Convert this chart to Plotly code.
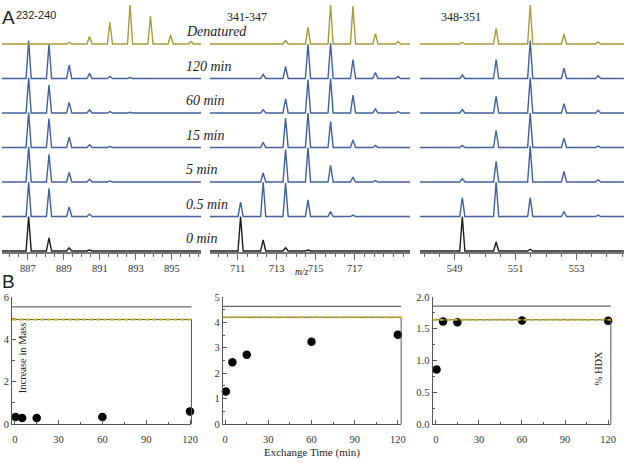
import plotly.graph_objects as go

W, H = 633, 463

# ---------------- DATA ----------------
row_labels = ["0 min", "0.5 min", "5 min", "15 min", "60 min", "120 min", "Denatured"]
peptides = ["232-240", "341-347", "348-351"]

p1_mz = [887.05, 888.18, 889.30, 890.43, 891.56, 892.68, 893.81, 894.93, 896.06]
p1_int = [
    [1.00, 0.38, 0.09, 0.03, 0.01, 0.00, 0.00, 0.00, 0.00],
    [1.00, 0.82, 0.28, 0.07, 0.02, 0.01, 0.00, 0.00, 0.00],
    [1.02, 0.80, 0.28, 0.08, 0.03, 0.01, 0.00, 0.00, 0.00],
    [1.02, 0.84, 0.30, 0.08, 0.03, 0.01, 0.00, 0.00, 0.00],
    [1.02, 0.81, 0.31, 0.09, 0.04, 0.02, 0.01, 0.00, 0.00],
    [1.10, 1.00, 0.39, 0.15, 0.06, 0.03, 0.02, 0.01, 0.00],
    [0.00, 0.01, 0.05, 0.22, 0.63, 1.13, 0.80, 0.26, 0.07],
]
p1_ticks = [887, 889, 891, 893, 895]

p2_mz = [711.15, 712.31, 713.46, 714.61, 715.77, 716.92, 718.07, 719.23]
p2_int = [
    [1.00, 0.32, 0.10, 0.03, 0.01, 0.00, 0.00, 0.00],
    [0.42, 1.00, 0.98, 0.48, 0.14, 0.04, 0.01, 0.00],
    [0.02, 0.26, 0.94, 1.00, 0.48, 0.14, 0.04, 0.01],
    [0.01, 0.15, 0.85, 1.00, 0.75, 0.22, 0.06, 0.02],
    [0.01, 0.10, 0.41, 0.97, 1.00, 0.52, 0.12, 0.04],
    [0.01, 0.12, 0.34, 1.00, 1.03, 0.55, 0.17, 0.06],
    [0.00, 0.02, 0.10, 0.48, 1.13, 1.10, 0.30, 0.07],
]
p2_ticks = [711, 713, 715, 717]

p3_mz = [549.25, 550.36, 551.48, 552.59, 553.71]
p3_int = [
    [1.00, 0.26, 0.05, 0.01, 0.00],
    [0.55, 1.00, 0.55, 0.14, 0.04],
    [0.10, 0.60, 1.04, 0.31, 0.07],
    [0.06, 0.50, 1.00, 0.27, 0.04],
    [0.10, 0.48, 1.03, 0.27, 0.08],
    [0.10, 0.55, 1.10, 0.30, 0.08],
    [0.05, 0.45, 1.13, 0.29, 0.06],
]
p3_ticks = [549, 551, 553]

time_min = [0.5, 5, 15, 60, 120]
mass_1 = [0.34, 0.29, 0.29, 0.34, 0.60]
mass_2 = [1.28, 2.43, 2.73, 3.24, 3.51]
mass_3 = [0.86, 1.615, 1.60, 1.63, 1.625]
max_mass = [5.53, 4.63, 1.856]
denatured_mass = [4.93, 4.20, 1.64]
time_ticks = [0, 30, 60, 90, 120]
hdx_ticks = [0, 20, 40, 60, 80, 100]

# ---------------- HELPERS ----------------
def px(x):
    return x / W

def py(y):
    return 1 - y / H

SERIF = "Liberation Serif"
SANS = "Liberation Sans"
row_colors = ["#1c1c1c"] + ["#40609e"] * 5 + ["#a39c3a"]
TICKFONT = dict(family=SERIF, size=10.5, color="#333")

fig = go.Figure()

spec_panels = [
    dict(mz=p1_mz, inten=p1_int, ticks=p1_ticks, dom=(2, 203), rng=(885.57, 896.62)),
    dict(mz=p2_mz, inten=p2_int, ticks=p2_ticks, dom=(212, 414), rng=(709.58, 719.85)),
    dict(mz=p3_mz, inten=p3_int, ticks=p3_ticks, dom=(424, 630), rng=(547.86, 554.56)),
]

y_lo, y_hi = -0.03, 7.13
spec_bottom_px = 253.06

for pi, p in enumerate(spec_panels):
    ax = "" if pi == 0 else str(pi + 1)
    xmin, xmax = p["rng"]
    ppu = (p["dom"][1] - p["dom"][0]) / (xmax - xmin)
    half = 2.6 / ppu
    for ri, inten in enumerate(p["inten"]):
        xs, ys = [xmin], [ri]
        for m, h in zip(p["mz"], inten):
            if h <= 0:
                continue
            xs += [m - half, m, m + half]
            ys += [ri, ri + h, ri]
        xs.append(xmax)
        ys.append(ri)
        fig.add_trace(go.Scatter(
            x=xs, y=ys, mode="lines", xaxis="x" + ax, yaxis="y" + ax,
            line=dict(color=row_colors[ri], width=1.4), hoverinfo="skip",
            showlegend=False))
    fig.layout["xaxis" + ax] = dict(
        domain=[px(p["dom"][0]), px(p["dom"][1])], range=list(p["rng"]),
        anchor="y" + ax, showline=True, linecolor="#777", linewidth=1.5,
        ticks="outside", ticklen=6, tickcolor="#666", tickwidth=1,
        tickvals=p["ticks"], ticktext=[str(t) for t in p["ticks"]],
        minor=dict(dtick=0.5, tick0=0, ticks="outside", ticklen=3, tickcolor="#666"),
        showgrid=False, zeroline=False, tickfont=TICKFONT)
    fig.layout["yaxis" + ax] = dict(
        domain=[py(spec_bottom_px), 1.0], range=[y_lo, y_hi], anchor="x" + ax,
        visible=False, showgrid=False, zeroline=False)

# ---------------- PANEL B ----------------
b_panels = [
    dict(y=mass_1, dom=(12.3, 193.3), xr=(-1.8, 121.0), yr=(0, 6), dt=2, mdt=1, fmt="d", lab=False),
    dict(y=mass_2, dom=(225, 405), xr=(-1.6, 122.3), yr=(0, 5), dt=1, mdt=0.5, fmt="d", lab=False),
    dict(y=mass_3, dom=(436.7, 616.7), xr=(-2.3, 121.9), yr=(0, 2), dt=0.5, mdt=0.25, fmt=".1f", lab=True),
]
b_ydom = [py(429.3), py(299)]

for bi, b in enumerate(b_panels):
    n = 4 + bi
    nr = 7 + bi
    xa, ya = "x%d" % n, "y%d" % n
    fig.add_trace(go.Scatter(
        x=time_min, y=b["y"], mode="markers", xaxis=xa, yaxis=ya,
        marker=dict(color="black", size=8.5), cliponaxis=False,
        hoverinfo="skip", showlegend=False))
    fig.layout["xaxis%d" % n] = dict(
        domain=[px(b["dom"][0]), px(b["dom"][1])], range=list(b["xr"]), anchor=ya,
        showline=True, linecolor="#555", linewidth=1, ticks="inside", ticklen=4,
        tickcolor="#555", tickvals=time_ticks, ticklabelstandoff=5,
        minor=dict(dtick=15, tick0=0, ticks="inside", ticklen=2.5, tickcolor="#555"),
        showgrid=False, zeroline=False, tickfont=TICKFONT)
    fig.layout["yaxis%d" % n] = dict(
        domain=b_ydom, range=list(b["yr"]), anchor=xa,
        showline=True, linecolor="#555", linewidth=1, ticks="inside", ticklen=4,
        tickcolor="#555", dtick=b["dt"], tick0=0, tickformat=b["fmt"],
        minor=dict(dtick=b["mdt"], tick0=0, ticks="inside", ticklen=2.5, tickcolor="#555"),
        showgrid=False, zeroline=False, tickfont=TICKFONT)
    hdx_top = 100 * b["yr"][1] / denatured_mass[bi]
    fig.layout["yaxis%d" % nr] = dict(
        overlaying=ya, side="right", anchor=xa, range=[0, hdx_top],
        showline=False, ticks="inside", ticklen=4, tickcolor="#555",
        tickvals=hdx_ticks, showticklabels=b["lab"],
        minor=dict(tickvals=[10, 30, 50, 70, 90], ticks="inside", ticklen=2.5, tickcolor="#555"),
        showgrid=False, zeroline=False, tickfont=TICKFONT)
    fig.add_shape(type="line", xref="%s domain" % xa, yref=ya, x0=1, x1=1,
                  y0=0, y1=denatured_mass[bi], line=dict(color="#555", width=1))
    fig.add_shape(type="line", xref="%s domain" % xa, yref=ya, x0=0, x1=1,
                  y0=max_mass[bi], y1=max_mass[bi], line=dict(color="#666", width=1.3))
    fig.add_shape(type="line", xref="%s domain" % xa, yref=ya, x0=0, x1=1,
                  y0=denatured_mass[bi], y1=denatured_mass[bi], line=dict(color="#55554a", width=1))
    fig.add_shape(type="line", xref="%s domain" % xa, yref=ya, x0=0, x1=1,
                  y0=denatured_mass[bi], y1=denatured_mass[bi],
                  line=dict(color="#c2b020", width=2, dash="4px,3px"))

# ---------------- TEXT ----------------
ann = []
ann.append(dict(text="A", x=px(0), y=py(0), xanchor="left", yanchor="top",
                font=dict(family=SANS, size=19, color="#222")))
ann.append(dict(text=peptides[0], x=px(14), y=py(18), xanchor="left", yanchor="bottom",
                font=dict(family=SANS, size=11, color="#222")))
ann.append(dict(text=peptides[1], x=px(227), y=py(12), xanchor="left", yanchor="middle",
                font=dict(family=SERIF, size=12, color="#222")))
ann.append(dict(text=peptides[2], x=px(443), y=py(12), xanchor="left", yanchor="middle",
                font=dict(family=SERIF, size=12, color="#222")))
for ri, lab in enumerate(row_labels):
    ann.append(dict(text="<i>%s</i>" % lab, xref="paper", yref="y", x=px(186), y=ri + 0.36,
                    xanchor="left", yanchor="middle",
                    font=dict(family=SERIF, size=14, color="#222")))
ann.append(dict(text="<i>m/z</i>", x=px(305), y=py(274), xanchor="center", yanchor="middle",
                font=dict(family=SERIF, size=9.5, color="#222")))
ann.append(dict(text="B", x=px(0), y=py(270), xanchor="left", yanchor="top",
                font=dict(family=SANS, size=19, color="#222")))
ann.append(dict(text="Increase in Mass", x=px(23), y=py(361), textangle=-90,
                xanchor="center", yanchor="middle",
                font=dict(family=SERIF, size=10.5, color="#222")))
ann.append(dict(text="% HDX", x=px(604), y=py(372), textangle=-90,
                xanchor="center", yanchor="middle",
                font=dict(family=SERIF, size=10.5, color="#222")))
ann.append(dict(text="Exchange Time (min)", x=px(315), y=py(458), xanchor="center",
                yanchor="middle", font=dict(family=SERIF, size=11, color="#222")))
for a in ann:
    a.setdefault("xref", "paper")
    a.setdefault("yref", "paper")
    a["showarrow"] = False
    fig.add_annotation(**a)

fig.update_layout(width=W, height=H, margin=dict(l=0, r=0, t=0, b=0),
                  paper_bgcolor="white", plot_bgcolor="white", showlegend=False)

fig.write_html("out.html", config={"displayModeBar": False},
               post_script="document.body.style.margin='0';document.body.style.padding='0';")
